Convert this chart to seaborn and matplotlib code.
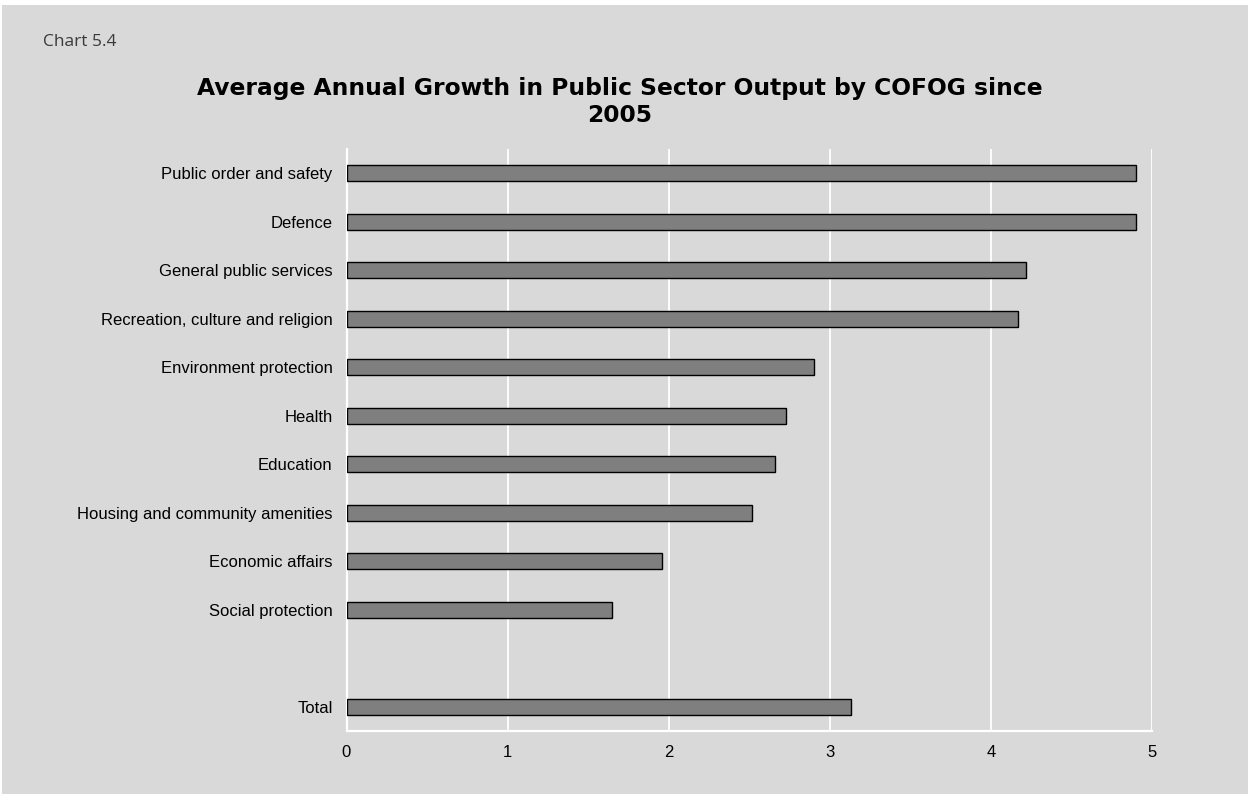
import matplotlib
matplotlib.use("Agg")
import matplotlib.pyplot as plt
import seaborn as sns
import pandas as pd
from matplotlib.patches import Rectangle

categories = [
    "Public order and safety",
    "Defence",
    "General public services",
    "Recreation, culture and religion",
    "Environment protection",
    "Health",
    "Education",
    "Housing and community amenities",
    "Economic affairs",
    "Social protection",
    "Total",
]
growth = [4.90, 4.90, 4.22, 4.17, 2.90, 2.73, 2.66, 2.52, 1.96, 1.65, 3.13]
# an empty slot separates the functions from the total
order = categories[:-1] + [" "] + categories[-1:]
x_ticks = [0, 1, 2, 3, 4, 5]

BG = "#d9d9d9"

sns.set_theme(style="white")
plt.rcParams["font.family"] = ["Liberation Sans", "DejaVu Sans"]

fig = plt.figure(figsize=(12.48, 7.94), dpi=100, facecolor="white")
fig.patches.append(Rectangle((2 / 1248, -0.01), 1.01, 1.01 - 5 / 794, transform=fig.transFigure,
                             facecolor=BG, edgecolor="none", zorder=-10))

ax = fig.add_axes([346.5 / 1248, 63 / 794, (1152 - 346.5) / 1248, (645 - 63) / 794])
ax.set_facecolor(BG)

df = pd.DataFrame({"category": categories, "growth": growth})
sns.barplot(data=df, x="growth", y="category", order=order, orient="h",
            color="#7f7f7f", saturation=1, width=0.34,
            edgecolor="black", linewidth=1.0, ax=ax, zorder=3)

ax.set_xlim(0, 5)
ax.set_xticks(x_ticks)
ax.set_xticklabels([str(t) for t in x_ticks])
ax.grid(axis="x", color="white", linewidth=1.3, zorder=0)
ax.grid(axis="y", visible=False)
ax.set_axisbelow(True)
for side in ["top", "right"]:
    ax.spines[side].set_visible(False)
for side in ["left", "bottom"]:
    ax.spines[side].set_color("white")
    ax.spines[side].set_linewidth(1.6)
ax.tick_params(axis="both", length=0, labelsize=12, colors="black")
ax.tick_params(axis="x", pad=10)
ax.tick_params(axis="y", pad=10)
ax.set_xlabel("")
ax.set_ylabel("")

fig.text(620 / 1248, 1 - 102 / 794,
         "Average Annual Growth in Public Sector Output by COFOG since\n2005",
         ha="center", va="center", fontsize=16.8, fontweight="bold",
         linespacing=1.25, color="black", family=["DejaVu Sans"])
fig.text(43 / 1248, 1 - 42 / 794, "Chart 5.4", ha="left", va="center",
         fontsize=12.5, color="#3a3a3a", family=["Open Sans", "DejaVu Sans"])

fig.savefig("out.png", dpi=100, facecolor="white")
